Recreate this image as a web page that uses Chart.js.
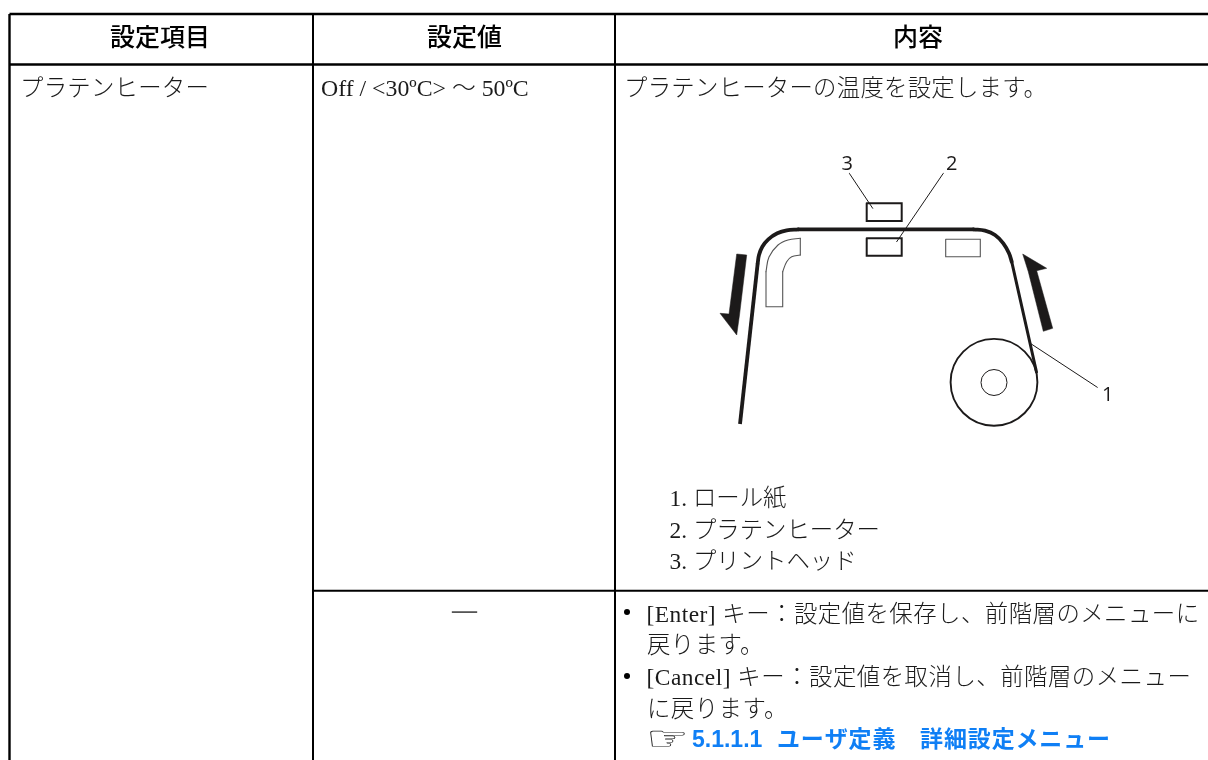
<!DOCTYPE html>
<html lang="ja"><head><meta charset="utf-8">
<style>html,body{margin:0;padding:0;background:#fff}canvas{display:block}</style>
<script src="https://cdn.jsdelivr.net/npm/chart.js@4"></script>
</head><body><canvas id="c" width="1208" height="760"></canvas>
<script>
// ---- data: traced outlines, in page units of the two linear scales ----
const tableTop=[[9.5,14],[1208,14]], tableHead=[[9.5,64.5],[1208,64.5]], tableRow=[[313,590.7],[1208,590.7]];
const tableLeft=[[9.5,14],[9.5,760]], tableCol1=[[313,14],[313,760]], tableCol2=[[615,14],[615,760]];
const paperLeft=[[740,424],[757.7,263.3]];
const paperArcL=[[757.7,263.3],[759,255],[762.3,246.7],[768.3,239.3],[777.3,233.3],[786.7,230.3],[798.3,229.3]];
const paperTop=[[798.3,229.3],[973.3,229.3]];
const paperArcR=[[973.3,229.3],[985,230.7],[995,235],[1003.3,243.3],[1009,253.3],[1011.7,261.7]];
const paperRight=[[1011.7,261.7],[1036.5,372]];
const head3=[[866.7,203.3],[901.7,203.3],[901.7,221],[866.7,221],[866.7,203.3]];
const head2=[[866.7,238.3],[901.7,238.3],[901.7,255.7],[866.7,255.7],[866.7,238.3]];
const heaterR=[[945.7,239.3],[980.3,239.3],[980.3,256.7],[945.7,256.7],[945.7,239.3]];
const guideBody=[[782.7,271.7],[782.7,306.7],[766,306.7],[766,271.7]];
const guideOuter=[[766,271.7],[769,257],[778,245],[788,240],[800.3,238.3]];
const guideEnd=[[800.3,238.3],[800.3,255]];
const guideInner=[[800.3,255],[791.7,256.7],[786.7,261.7],[782.7,271.7]];
const arrowDown=[[736.7,254],[746.7,255],[739.5,315],[736.7,335],[720,313.3],[729,314],[736.7,254]];
const arrowUp=[[1022.7,254],[1046.7,268.3],[1036.7,270.7],[1052.7,328.3],[1043.3,331.3],[1028.3,271.7],[1022.7,254]];
const leader3=[[849.3,173.3],[872.7,208.3]], leader2=[[943.3,173.3],[896.7,241.7]], leader1=[[1029.3,342.7],[1097.3,387.3]];
const rollOuter=[[994,382.3]], rollInner=[[994,382.5]];
const bulletMarks=[[627,612],[627,676]];

// ---- text ----
const headers=["設定項目","設定値","内容"];
const itemLabel="プラテンヒーター", rangeLabel="Off / <30ºC> 〜 50ºC", noValue="—";
const description="プラテンヒーターの温度を設定します。";
const legendLines=["1. ロール紙","2. プラテンヒーター","3. プリントヘッド"];
const calloutNums=["1","2","3"];
const keyLines=["[Enter] キー：設定値を保存し、前階層のメニューに","戻ります。","[Cancel] キー：設定値を取消し、前階層のメニュー","に戻ります。"];
const handIcon="☞", linkNumber="5.1.1.1", linkTitle="ユーザ定義　詳細設定メニュー";

// ---- styling / assembly ----
const K='#000', D='#1c1a1a', G='#555';
const toXY=a=>a.map(([x,y])=>({x,y}));
function line(a,w,c,t=0,cap='round'){return {data:toXY(a),showLine:true,borderColor:c,borderWidth:w,tension:t,pointRadius:0,borderCapStyle:cap,borderJoinStyle:'miter',fill:false};}
function solid(a){return {data:toXY(a),showLine:true,borderColor:D,borderWidth:0.5,tension:0,pointRadius:0,fill:'shape',backgroundColor:D};}
function ring(a,r,w){return {data:toXY(a),showLine:false,pointRadius:r,pointHoverRadius:r,pointBorderColor:D,pointBorderWidth:w,pointBackgroundColor:'rgba(0,0,0,0)'};}
function dots(a,r){return {data:toXY(a),showLine:false,pointRadius:r,pointBackgroundColor:K,pointBorderWidth:0};}
const datasets=[
 line(tableTop,2.4,K,0,'butt'),line(tableHead,2.4,K,0,'butt'),line(tableRow,2,K,0,'butt'),
 line(tableLeft,2.4,K,0,'butt'),line(tableCol1,2,K,0,'butt'),line(tableCol2,2,K,0,'butt'),
 line(paperLeft,3.8,D,0,'butt'),line(paperArcL,3.8,D,.4),line(paperTop,3.8,D),line(paperArcR,3.8,D,.4),line(paperRight,3,D),
 line(head3,2,D),line(head2,2,D),line(heaterR,1.1,G),
 line(guideBody,1.1,G),line(guideOuter,1.1,G,.4),line(guideEnd,1.1,G),line(guideInner,1.1,G,.4),
 solid(arrowDown),solid(arrowUp),
 line(leader3,1,D),line(leader2,1,D),line(leader1,1,D),
 ring(rollOuter,43.4,1.9),ring(rollInner,13,1),dots(bulletMarks,3)
];

const SERIF='"Liberation Serif","Noto Sans CJK JP"';
const BODY='300 23.4px '+SERIF, TXT='#1a1a1a';
const textPlugin={id:'pageText',afterDatasetsDraw(ch){
  const {ctx,scales:{x,y}}=ch;
  const put=(s,px,py,font,color,align='left',sp='0px')=>{
    ctx.font=font;ctx.fillStyle=color;ctx.textAlign=align;ctx.textBaseline='middle';ctx.letterSpacing=sp;
    ctx.fillText(s,x.getPixelForValue(px),y.getPixelForValue(py));
  };
  ctx.save();
  const HEAD='500 25px "Noto Sans CJK JP"';
  put(headers[0],160,36,HEAD,'#000','center');
  put(headers[1],464.5,36,HEAD,'#000','center');
  put(headers[2],918,36,HEAD,'#000','center');
  put(itemLabel,20,90,BODY,TXT,'left','0.25px');
  put(rangeLabel,321,90,'300 23.8px '+SERIF,TXT);
  put(description,624,90,BODY,TXT,'left','0.25px');
  put(calloutNums[2],847.3,164,'20px "Open Sans"',D,'center');
  put(calloutNums[1],951.7,164,'20px "Open Sans"',D,'center');
  put(calloutNums[0],1107.7,395,'20px "Open Sans"',D,'center');
  legendLines.forEach((s,i)=>put(s,669.5,[500,532,563][i],BODY,TXT));
  put(noValue,464.5,611.5,'bold 25px "Liberation Serif"','#555','center');
  put(keyLines[0],646.5,616,BODY,TXT,'left','0.47px');
  put(keyLines[1],647,647,BODY,TXT,'left','0.47px');
  put(keyLines[2],646.5,679,BODY,TXT,'left','0.5px');
  put(keyLines[3],647,711,BODY,TXT,'left','0.47px');
  // pointing-hand glyph, stretched sideways like the reference's icon
  ctx.save();
  ctx.translate(x.getPixelForValue(646),y.getPixelForValue(741));
  ctx.scale(1.4,1);
  ctx.font='bold 34px "DejaVu Sans"';ctx.fillStyle='#222';ctx.textAlign='left';ctx.textBaseline='middle';ctx.letterSpacing='0px';
  ctx.fillText(handIcon,0,0);
  ctx.restore();
  const LINK='bold 23px "Liberation Sans","Noto Sans CJK JP"', BLUE='#0f7ff5';
  put(linkNumber,692,741,LINK,BLUE);
  put(linkTitle,777,741,LINK,BLUE,'left','0.85px');
  ctx.restore();
}};

new Chart(document.getElementById('c'),{type:'scatter',data:{datasets},plugins:[textPlugin],options:{
  responsive:false,animation:false,layout:{padding:0,autoPadding:false},
  events:[],
  plugins:{legend:{display:false},tooltip:{enabled:false},title:{display:false}},
  elements:{line:{capBezierPoints:true}},
  scales:{x:{type:'linear',display:false,min:0,max:1208},y:{type:'linear',display:false,min:0,max:760,reverse:true}}
}});
</script></body></html>
